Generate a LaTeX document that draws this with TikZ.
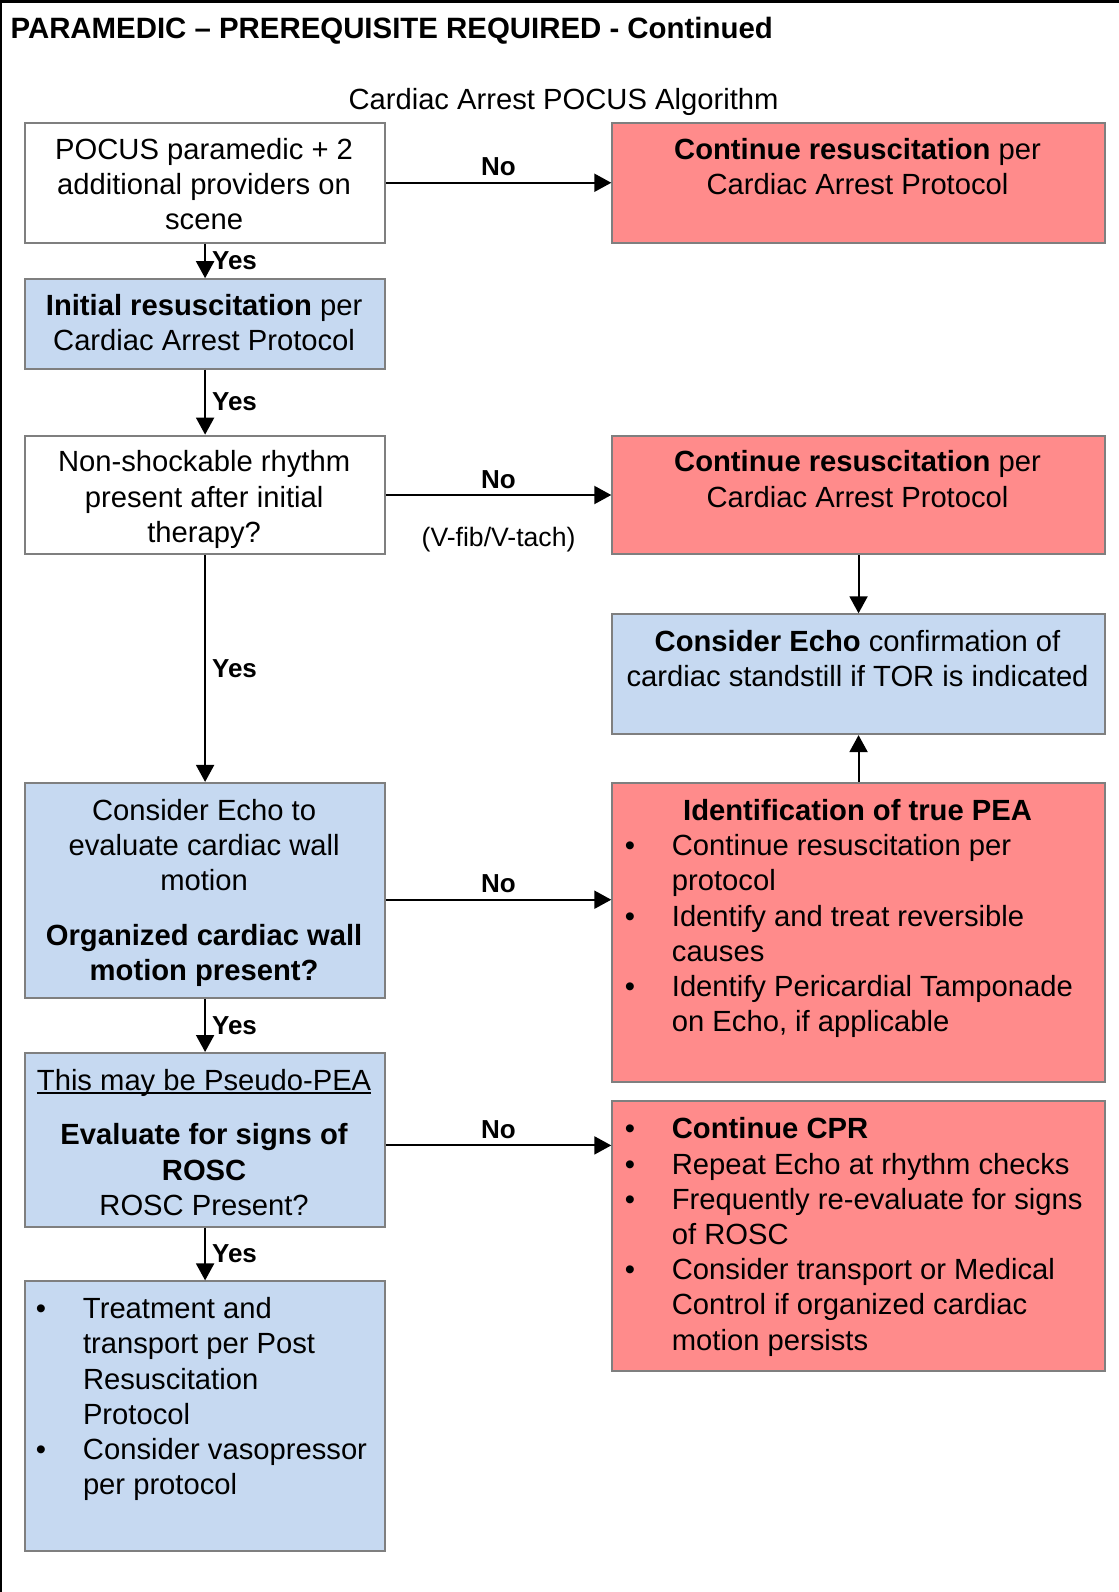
\documentclass[tikz,border=0pt]{standalone}
\usepackage{fontspec}
\setmainfont{Liberation Sans}
\usetikzlibrary{arrows.meta,calc}
\definecolor{redfill}{HTML}{FF8B8B}
\definecolor{bluefill}{HTML}{C6D9F1}
\definecolor{edgegray}{HTML}{7F7F7F}
\newcommand\pbul{\makebox[0pt]{\textbullet}\hspace*{21pt}}
\newcommand\pind{\hspace*{21pt}}
\newsavebox\pulbox
\newcommand\pul[1]{\sbox\pulbox{#1}\rlap{\rule[-1.7pt]{\wd\pulbox}{0.7pt}}\usebox\pulbox}
\begin{document}
\begin{tikzpicture}[x=0.5pt,y=-0.5pt,
  boxbase/.style={draw=edgegray, line width=1pt, rectangle, inner sep=0pt, anchor=north west},
  whitebox/.style={boxbase, fill=white},
  bluebox/.style={boxbase, fill=bluefill},
  redbox/.style={boxbase, fill=redfill},
  lcol/.style={minimum width=179.7pt},
  rcol/.style={minimum width=246.25pt},
  body/.style={font=\fontsize{14.6}{17.6}\selectfont, inner sep=0pt},
  ctext/.style={body, align=center, anchor=north},
  ltext/.style={body, align=left, anchor=north west},
  arr/.style={line width=1pt, -{Triangle[length=8.5pt,width=9pt]}},
  nolab/.style={font=\bfseries\fontsize{13}{15}\selectfont, inner sep=0pt, anchor=base, yshift=3.5pt, midway},
  yeslab/.style={font=\bfseries\fontsize{13}{15}\selectfont, inner sep=0pt, anchor=west, xshift=3pt, midway},
  sidelab/.style={font=\fontsize{13.3}{15}\selectfont, inner sep=0pt, anchor=center, yshift=-22.3pt, midway},
]
\useasboundingbox (0,0) rectangle (1119,1592);
% page frame (top and left)
\draw[line width=1.5pt] (0,1.5) -- (1119,1.5);
\draw[line width=1pt] (1,0) -- (1,1592);

% titles
\node[body, font=\bfseries\fontsize{14.7}{17.6}\selectfont, anchor=base west] (title) at (10.2,38.8) {PARAMEDIC – PREREQUISITE REQUIRED - Continued};
\node[body, anchor=base] (subtitle) at (563.5,109.9) {Cardiac Arrest POCUS Algorithm};

% boxes
\node[whitebox, lcol, minimum height=59.95pt] (b1) at (24.4,121.8) {};
\node[redbox, rcol, minimum height=59.95pt] (r1) at (611.3,121.8) {};
\node[bluebox, lcol, minimum height=44.7pt] (b2) at (24.4,278.2) {};
\node[whitebox, lcol, minimum height=59.4pt] (b3) at (24.4,434.6) {};
\node[redbox, rcol, minimum height=59.4pt] (r2) at (611.3,434.6) {};
\node[bluebox, rcol, minimum height=59.9pt] (e1) at (611.3,613.3) {};
\node[bluebox, lcol, minimum height=107.6pt] (b4) at (24.4,781.9) {};
\node[redbox, rcol, minimum height=149.75pt] (r3) at (611.3,781.9) {};
\node[bluebox, lcol, minimum height=86.8pt] (b5) at (24.4,1052) {};
\node[redbox, rcol, minimum height=135pt] (r4) at (611.3,1099.7) {};
\node[bluebox, lcol, minimum height=134.55pt] (b6) at (24.4,1280.4) {};

% box texts
\node[ctext] (b1t) at (204.1,134.0) {\strut POCUS paramedic + 2\\additional providers on\\scene};
\node[ctext] (r1t) at (857.55,134.0) {\strut\textbf{Continue resuscitation} per\\Cardiac Arrest Protocol};
\node[ctext] (b2t) at (204.1,290.4) {\strut\textbf{Initial resuscitation} per\\Cardiac Arrest Protocol};
\node[ctext] (b3t) at (204.1,446.8) {\strut Non-shockable rhythm\\present after initial\\therapy?};
\node[ctext] (r2t) at (857.55,446.8) {\strut\textbf{Continue resuscitation} per\\Cardiac Arrest Protocol};
\node[ctext] (e1t) at (857.55,626.5) {\strut\textbf{Consider Echo} confirmation of\\cardiac standstill if TOR is indicated};
\node[ctext] (b4t) at (204.1,795.0) {\strut Consider Echo to\\evaluate cardiac wall\\motion\\[9.8pt]\textbf{Organized cardiac wall}\\\textbf{motion present?}};
\node[ctext] (r3t) at (857.55,795.0) {\strut\textbf{Identification of true PEA}};
\node[ltext] (r3l) at (629.5,830.6) {\strut\pbul Continue resuscitation per\\\pind protocol\\\pbul Identify and treat reversible\\\pind causes\\\pbul Identify Pericardial Tamponade\\\pind on Echo, if applicable};
\node[ctext] (b5t) at (204.1,1065.1) {\strut\pul{This may be Pseudo-PEA}\\[9.8pt]\textbf{Evaluate for signs of}\\\textbf{ROSC}\\ROSC Present?};
\node[ltext] (r4l) at (629.5,1113.9) {\strut\pbul\textbf{Continue CPR}\\\pbul Repeat Echo at rhythm checks\\\pbul Frequently re-evaluate for signs\\\pind of ROSC\\\pbul Consider transport or Medical\\\pind Control if organized cardiac\\\pind motion persists};
\node[ltext] (b6l) at (40.6,1293.6) {\strut\pbul Treatment and\\\pind transport per Post\\\pind Resuscitation\\\pind Protocol\\\pbul Consider vasopressor\\\pind per protocol};

% connectors
\draw[arr] (b1) -- node[nolab] {No} (r1);
\draw[arr] (b1) -- node[yeslab] {Yes} (b2);
\draw[arr] (b2) -- node[yeslab] {Yes} (b3);
\draw[arr] (b3) -- node[nolab] {No} node[sidelab] {(V-fib/V-tach)} (r2);
\draw[arr] (r2) -- (e1);
\draw[arr] (b3) -- node[yeslab] {Yes} (b4);
\coordinate (n3s) at ([yshift=-4.6pt]b4.east);
\draw[arr] (n3s) -- node[nolab] {No} (n3s -| r3.west);
\draw[arr] (r3) -- (e1);
\draw[arr] (b4) -- node[yeslab] {Yes} (b5);
\coordinate (n4s) at ([yshift=-2.8pt]b5.east);
\draw[arr] (n4s) -- node[nolab] {No} (n4s -| r4.west);
\draw[arr] (b5) -- node[yeslab] {Yes} (b6);
\end{tikzpicture}
\end{document}
